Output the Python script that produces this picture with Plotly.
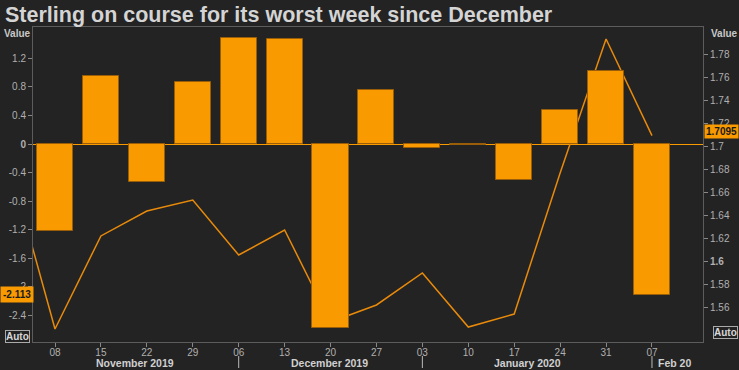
import plotly.graph_objects as go

# ---- data ----
bar_dates = ["2019-11-08", "2019-11-15", "2019-11-22", "2019-11-29", "2019-12-06",
             "2019-12-13", "2019-12-20", "2019-12-27", "2020-01-03", "2020-01-10",
             "2020-01-17", "2020-01-24", "2020-01-31", "2020-02-07"]
bar_values = [-1.22, 0.96, -0.53, 0.87, 1.48, 1.47, -2.58, 0.76, -0.06, -0.02,
              -0.50, 0.48, 1.02, -2.113]

line_dates = ["2019-11-01"] + bar_dates
line_values = [1.686, 1.5413, 1.6222, 1.6439, 1.6535, 1.6057, 1.6274, 1.5474, 1.5622,
               1.5900, 1.5430, 1.5543, 1.6770, 1.7935, 1.7095]

tick_labels = ["08", "15", "22", "29", "06", "13", "20", "27", "03", "10", "17", "24", "31", "07"]
left_ticks = [-2.4, -2.0, -1.6, -1.2, -0.8, -0.4, 0, 0.4, 0.8, 1.2]
left_tick_text = ["-2.4", "-2", "-1.6", "-1.2", "-0.8", "-0.4", "<b>0</b>", "0.4", "0.8", "1.2"]
right_ticks = [1.56, 1.58, 1.60, 1.62, 1.64, 1.66, 1.68, 1.70, 1.72, 1.74, 1.76, 1.78]
right_tick_text = ["1.56", "1.58", "<b>1.6</b>", "1.62", "1.64", "1.66", "1.68", "1.7",
                   "1.72", "1.74", "1.76", "1.78"]
month_labels = ["November 2019", "December 2019", "January 2020", "Feb 20"]
month_centers = ["2019-11-20 05:00", "2019-12-19 22:00", "2020-01-19 00:00", "2020-02-10 10:00"]
month_seps = ["2019-12-06", "2020-01-03", "2020-02-07"]

BG = "#232323"
ORANGE = "#F89A00"
LINE = "#E88A0A"
AXIS = "#5c5c5c"
TXT = "#b0b0b0"
FONT = "Liberation Sans, Arial, sans-serif"

fig = go.Figure()

# line on primary axis (drawn underneath), right side
fig.add_trace(go.Scatter(x=line_dates, y=line_values, mode="lines",
                         line=dict(color=LINE, width=1.5), yaxis="y", showlegend=False))
# bars on overlaying axis, left side
fig.add_trace(go.Bar(x=bar_dates, y=bar_values, yaxis="y2", width=475200000,
                     marker=dict(color=ORANGE, line=dict(color="#9a5e08", width=1)),
                     showlegend=False))

fig.update_layout(
    width=739, height=370,
    margin=dict(l=33, r=36, t=27, b=28, autoexpand=False),
    paper_bgcolor=BG, plot_bgcolor=BG,
    font=dict(family=FONT, size=10, color=TXT),
    bargap=0,
    title=dict(text="<b>Sterling on course for its worst week since December</b>",
               xref="container", yref="container", x=5/739, y=1-14/370,
               xanchor="left", yanchor="middle", automargin=False,
               font=dict(family=FONT, size=21.5, color="#d4d4d4")),
    xaxis=dict(type="date", range=["2019-11-04 15:30", "2020-02-14 18:40"],
               tickvals=bar_dates, ticktext=tick_labels, ticks="outside", ticklen=4,
               tickcolor="#888888", showgrid=False, showline=True, linecolor=AXIS,
               mirror=True, zeroline=False, automargin=False, ticklabelstandoff=-3,
               tickfont=dict(size=10, color=TXT)),
    yaxis=dict(side="right", range=[1.530, 1.8039], tickvals=right_ticks,
               ticktext=right_tick_text, ticks="outside", ticklen=4, tickcolor="#888888",
               showgrid=False, showline=True, linecolor=AXIS, zeroline=False,
               automargin=False, tickfont=dict(size=10, color=TXT)),
    yaxis2=dict(side="left", overlaying="y", range=[-2.777, 1.641], tickvals=left_ticks,
                ticktext=left_tick_text, ticks="outside", ticklen=4, tickcolor="#888888",
                showgrid=False, showline=True, linecolor=AXIS, zeroline=True,
                automargin=False, zerolinecolor=ORANGE, zerolinewidth=1,
                tickfont=dict(size=10, color=TXT)),
)

def px_x(px):
    return (px - 33) / 670.0

def px_y(py):
    return (342 - py) / 315.0

ann = []
# month labels
for lab, c in zip(month_labels, month_centers):
    ann.append(dict(text="<b>" + lab + "</b>", x=c, xref="x", y=px_y(362.5), yref="paper",
                    showarrow=False, xanchor="center", yanchor="middle", borderpad=0,
                    font=dict(family=FONT, size=10.5, color="#d0d0d0")))
# Value headers
ann.append(dict(text="<b>Value</b>", x=px_x(17), y=px_y(33), xref="paper", yref="paper",
                showarrow=False, xanchor="center", yanchor="middle",
                font=dict(family=FONT, size=10, color="#c8c8c8")))
ann.append(dict(text="<b>Value</b>", x=px_x(724), y=px_y(33), xref="paper", yref="paper",
                showarrow=False, xanchor="center", yanchor="middle",
                font=dict(family=FONT, size=10, color="#c8c8c8")))
# Auto boxes
ann.append(dict(text="<b>Auto</b>", x=px_x(17), y=px_y(336), xref="paper", yref="paper",
                showarrow=False, xanchor="center", yanchor="middle", bgcolor=BG,
                bordercolor="#aaaaaa", borderwidth=1, borderpad=0,
                font=dict(family=FONT, size=10, color="#d8d8d8")))
ann.append(dict(text="<b>Auto</b>", x=px_x(725), y=px_y(332), xref="paper", yref="paper",
                showarrow=False, xanchor="center", yanchor="middle", bgcolor=BG,
                bordercolor="#aaaaaa", borderwidth=1, borderpad=0,
                font=dict(family=FONT, size=10, color="#d8d8d8")))
# last value labels
ann.append(dict(text="<b>%.3f</b>" % bar_values[-1], x=px_x(16.5), y=bar_values[-1],
                xref="paper", yref="y2", showarrow=False, xanchor="center", yanchor="middle",
                bgcolor=ORANGE, borderpad=2,
                font=dict(family=FONT, size=10, color="#1a1a1a")))
ann.append(dict(text="<b>%.4f</b>" % line_values[-1], x=px_x(721.5), y=line_values[-1] + 0.0035,
                xref="paper", yref="y", showarrow=False, xanchor="center", yanchor="middle",
                bgcolor=ORANGE, borderpad=1,
                font=dict(family=FONT, size=10, color="#1a1a1a")))
fig.update_layout(annotations=ann)

shapes = []
for s in month_seps:
    shapes.append(dict(type="line", x0=s, x1=s, xref="x", yref="paper",
                       y0=px_y(356), y1=px_y(368), line=dict(color="#bbbbbb", width=1)))
fig.update_layout(shapes=shapes)

fig.write_html("out.html", config={"displayModeBar": False},
               post_script="document.body.style.margin='0px';document.body.style.background='#232323';")
